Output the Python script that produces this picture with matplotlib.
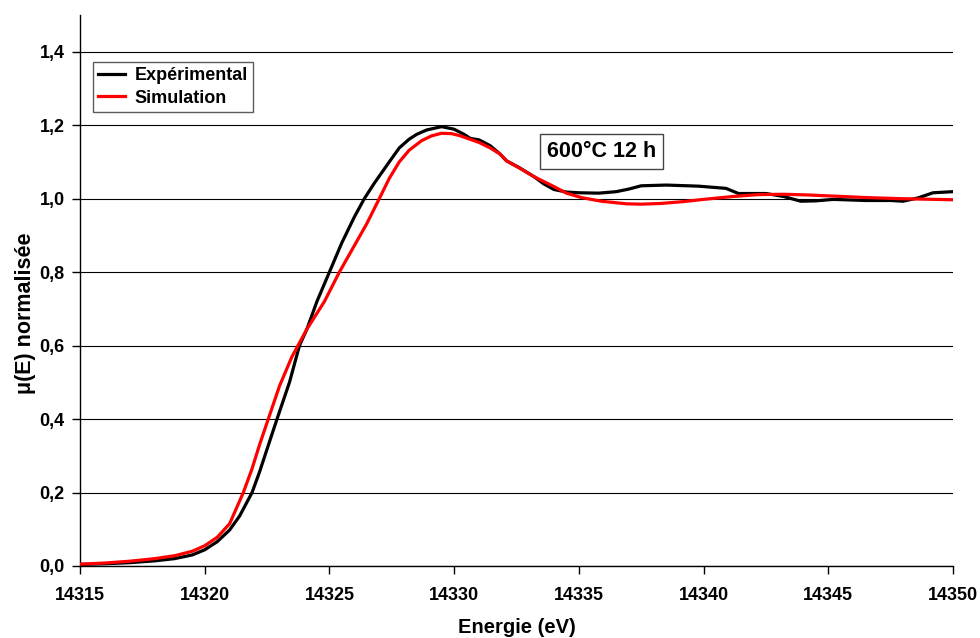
import matplotlib
matplotlib.use("Agg")
import matplotlib.pyplot as plt
from matplotlib.ticker import FuncFormatter

plt.rcParams["font.family"] = ["Liberation Sans", "DejaVu Sans"]
plt.rcParams["font.weight"] = "bold"

# Experimental spectrum (energy in eV, normalised absorption)
exp_energy = [
    14315.0, 14316.0, 14317.0, 14318.0, 14318.8, 14319.5, 14320.0, 14320.5,
    14321.0, 14321.4, 14321.9, 14322.2, 14322.5, 14322.9, 14323.4, 14323.8,
    14324.1, 14324.5, 14325.0, 14325.5, 14326.0, 14326.4, 14326.8, 14327.4,
    14327.8, 14328.2, 14328.5, 14328.9, 14329.5, 14330.0, 14330.4, 14330.65,
    14331.0, 14331.45, 14331.85, 14332.1, 14332.6, 14333.2, 14333.6, 14334.0,
    14334.5, 14335.0, 14335.8, 14336.5, 14337.0, 14337.5, 14338.5, 14339.8,
    14340.9, 14341.4, 14342.5, 14343.2, 14343.9, 14344.5, 14345.2, 14346.5,
    14347.5, 14348.0, 14348.6, 14349.2, 14350.0,
]
exp_mu = [
    0.004, 0.006, 0.009, 0.014, 0.020, 0.030, 0.044, 0.066,
    0.098, 0.136, 0.200, 0.256, 0.318, 0.400, 0.500, 0.600,
    0.645, 0.720, 0.800, 0.880, 0.950, 1.000, 1.042, 1.100,
    1.138, 1.162, 1.175, 1.187, 1.196, 1.189, 1.175, 1.164,
    1.160, 1.144, 1.121, 1.103, 1.085, 1.060, 1.040, 1.025,
    1.018, 1.016, 1.015, 1.019, 1.026, 1.035, 1.037, 1.034,
    1.028, 1.014, 1.014, 1.006, 0.993, 0.994, 0.998, 0.995,
    0.995, 0.993, 1.002, 1.016, 1.019,
]

# Simulated spectrum
sim_energy = [
    14315.0, 14316.0, 14317.0, 14318.0, 14318.8, 14319.5, 14320.0, 14320.5,
    14321.0, 14321.55, 14321.9, 14322.2, 14322.55, 14323.0, 14323.5, 14324.1,
    14324.8, 14325.4, 14326.0, 14326.5, 14327.0, 14327.4, 14327.8, 14328.2,
    14328.7, 14329.1, 14329.5, 14329.9, 14330.25, 14331.0, 14331.45, 14331.85,
    14332.1, 14332.7, 14333.2, 14334.0, 14334.5, 14335.1, 14335.9, 14336.9,
    14337.5, 14338.3, 14339.2, 14340.0, 14341.2, 14342.2, 14343.2, 14344.2,
    14345.2, 14346.5, 14347.9, 14350.0,
]
sim_mu = [
    0.005, 0.008, 0.013, 0.020, 0.028, 0.040, 0.055, 0.078,
    0.115, 0.200, 0.265, 0.330, 0.400, 0.490, 0.570, 0.645,
    0.720, 0.800, 0.872, 0.932, 1.000, 1.055, 1.100, 1.132,
    1.158, 1.171, 1.178, 1.177, 1.171, 1.153, 1.138, 1.121,
    1.103, 1.080, 1.060, 1.033, 1.015, 1.003, 0.993, 0.986,
    0.985, 0.987, 0.992, 0.998, 1.006, 1.011, 1.012, 1.010,
    1.007, 1.003, 1.000, 0.997,
]

x_ticks = [14315, 14320, 14325, 14330, 14335, 14340, 14345, 14350]
y_ticks = [0.0, 0.2, 0.4, 0.6, 0.8, 1.0, 1.2, 1.4]

fig = plt.figure(figsize=(9.8, 6.38), dpi=100)
ax = fig.add_axes([0.0816, 0.1129, 0.8908, 0.8636])

ax.plot(exp_energy, exp_mu, color="black", lw=2.3, label="Expérimental",
        solid_joinstyle="round", zorder=3)
ax.plot(sim_energy, sim_mu, color="#ff0000", lw=2.3, label="Simulation",
        solid_joinstyle="round", zorder=4)

ax.set_xlim(14315, 14350)
ax.set_ylim(0, 1.5)
ax.set_xticks(x_ticks)
ax.set_yticks(y_ticks)
ax.yaxis.set_major_formatter(FuncFormatter(lambda v, _: f"{v:.1f}".replace(".", ",")))
ax.yaxis.grid(True, color="black", lw=0.8)
ax.set_axisbelow(True)

for side in ("top", "right"):
    ax.spines[side].set_visible(False)
for side in ("left", "bottom"):
    ax.spines[side].set_linewidth(1.0)

ax.tick_params(axis="both", direction="out", length=6, width=1,
               labelsize=13, colors="black")
ax.tick_params(axis="x", pad=9)
ax.tick_params(axis="y", pad=5)

ax.set_xlabel("Energie (eV)", fontsize=14.5, fontweight="bold")
ax.set_ylabel("μ(E) normalisée", fontsize=15.5, fontweight="bold")
ax.xaxis.set_label_coords(0.5, -0.094)
ax.yaxis.set_label_coords(-0.05, 0.459)

leg = ax.legend(loc="upper left", bbox_to_anchor=(0.0149, 0.915),
                frameon=True, fancybox=False, fontsize=13, handlelength=1.5,
                handletextpad=0.5, borderpad=0.3, labelspacing=0.3,
                borderaxespad=0)
leg.get_frame().set_edgecolor("#333333")
leg.get_frame().set_linewidth(1.0)

ax.text(14335.9, 1.128, "600°C 12 h", fontsize=15.5, fontweight="bold",
        ha="center", va="center",
        bbox=dict(boxstyle="square,pad=0.33", facecolor="white",
                  edgecolor="#444444", lw=1.0))

fig.savefig("out.png", dpi=100)
